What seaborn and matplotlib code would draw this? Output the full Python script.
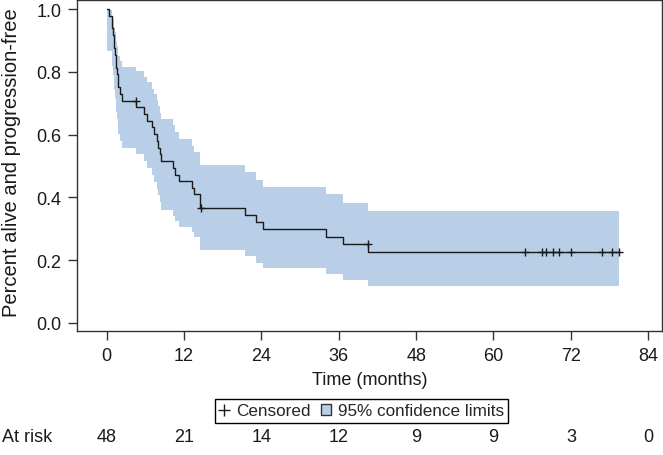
import matplotlib
matplotlib.use("Agg")
import matplotlib.pyplot as plt
import matplotlib.transforms as mtransforms
from matplotlib.lines import Line2D
from matplotlib.patches import Patch
import seaborn as sns
import pandas as pd

# === Datos ===
step_time = [0, 0.4, 0.8, 1.0, 1.1, 1.2, 1.3, 1.4, 1.5, 1.6, 1.7, 1.8, 2.0, 2.3,
             4.6, 5.8, 6.2, 6.98, 7.34, 7.76, 7.9, 8.2, 8.4, 10.3, 10.6, 11.2,
             13.2, 13.6, 14.5, 21.4, 23.2, 24.3, 34.0, 36.65, 40.5, 79.4]
surv = [1.0, 0.979, 0.938, 0.917, 0.896, 0.875, 0.854, 0.833, 0.813, 0.792, 0.771, 0.750, 0.729, 0.708,
        0.687, 0.665, 0.644, 0.623, 0.601, 0.580, 0.558, 0.537, 0.515, 0.494, 0.472, 0.451,
        0.431, 0.410, 0.367, 0.344, 0.321, 0.298, 0.275, 0.252, 0.227, 0.227]
ci_lower = [0.867, 0.867, 0.819, 0.790, 0.768, 0.742, 0.718, 0.694, 0.671, 0.648, 0.625, 0.602, 0.579, 0.557,
            0.538, 0.515, 0.494, 0.470, 0.449, 0.428, 0.407, 0.386, 0.358, 0.341, 0.323, 0.306,
            0.290, 0.274, 0.232, 0.212, 0.192, 0.175, 0.155, 0.137, 0.117, 0.117]
ci_upper = [1.0, 0.997, 0.979, 0.968, 0.955, 0.942, 0.928, 0.913, 0.898, 0.882, 0.866, 0.850, 0.833, 0.815,
            0.803, 0.784, 0.766, 0.746, 0.728, 0.709, 0.690, 0.670, 0.651, 0.630, 0.607, 0.586,
            0.565, 0.545, 0.503, 0.480, 0.455, 0.432, 0.410, 0.383, 0.356, 0.356]

censor_time = [4.6, 14.7, 40.5, 64.9, 67.5, 68.1, 69.3, 70.1, 72.1, 76.8, 78.4, 79.4]
censor_surv = [0.708, 0.367, 0.252, 0.227, 0.227, 0.227, 0.227, 0.227, 0.227, 0.227, 0.227, 0.227]

risk_time = [0, 12, 24, 36, 48, 60, 72, 84]
at_risk = [48, 21, 14, 12, 9, 9, 3, 0]

# === Estilo ===
sns.set_style("ticks")
plt.rcParams["font.family"] = ["Liberation Sans", "DejaVu Sans"]
fs = 13
plt.rcParams["font.size"] = fs
color_banda = "#b9cfe8"
color_linea = "#1a1a1a"
color_texto = "#1a1a1a"

fig = plt.figure(figsize=(6.63, 4.56), dpi=100)
ax = fig.add_axes([0.1166, 0.2713, 0.8815, 0.7267])

# banda de confianza
ax.fill_between(step_time, ci_lower, ci_upper, step="post", color=color_banda, linewidth=0, zorder=1)

# curva Kaplan-Meier
df = pd.DataFrame({"time": step_time, "surv": surv})
sns.lineplot(data=df, x="time", y="surv", drawstyle="steps-post", estimator=None,
             color=color_linea, linewidth=1.0, ax=ax, zorder=2)

# censurados
cens = pd.DataFrame({"time": censor_time, "surv": censor_surv})
sns.scatterplot(data=cens, x="time", y="surv", marker="+", s=35, color=color_linea,
                linewidth=1.0, ax=ax, zorder=3)

ax.set_xlim(-4.56, 86.1)
ax.set_ylim(-0.027, 1.029)
ax.set_xticks(risk_time)
ax.set_yticks([0, 0.2, 0.4, 0.6, 0.8, 1.0])
ax.set_yticklabels([f"{v:.1f}" for v in [0, 0.2, 0.4, 0.6, 0.8, 1.0]])
ax.tick_params(direction="out", length=6.5, width=1, pad=5, labelsize=fs,
               color="#333333", labelcolor=color_texto)
for s in ax.spines.values():
    s.set_color("#333333")
    s.set_linewidth(1)
ax.set_xlabel("")
ax.set_ylabel("")

fig.text(369.5 / 663, 1 - 381 / 456, "Time (months)", ha="center", va="center",
         fontsize=fs, color=color_texto)
fig.text(12 / 663, 1 - 163 / 456, "Percent alive and progression-free", ha="center", va="center",
         rotation=90, fontsize=14.5, color=color_texto)

# leyenda
handles = [Line2D([], [], marker="+", linestyle="none", color=color_linea, markersize=8, markeredgewidth=1),
           Patch(facecolor=color_banda, edgecolor="#333333", linewidth=1)]
leg = fig.legend(handles, ["Censored", "95% confidence limits"], loc="center",
                 bbox_to_anchor=(361.5 / 663, 1 - 412 / 456), ncol=2, frameon=True,
                 fancybox=False, edgecolor="black", framealpha=1, handlelength=0.6,
                 handleheight=0.6, handletextpad=0.4, columnspacing=0.6, borderpad=0.25,
                 borderaxespad=0, fontsize=12.3)
leg.get_frame().set_linewidth(1)

# numeros en riesgo
trans = mtransforms.blended_transform_factory(ax.transData, fig.transFigure)
for t, n in zip(risk_time, at_risk):
    ax.text(t, 1 - 438 / 456, str(n), ha="center", va="center", transform=trans,
            fontsize=fs, color=color_texto, clip_on=False)
fig.text(2 / 663, 1 - 438 / 456, "At risk", ha="left", va="center", fontsize=fs, color=color_texto)

fig.savefig("out.png", dpi=100)
